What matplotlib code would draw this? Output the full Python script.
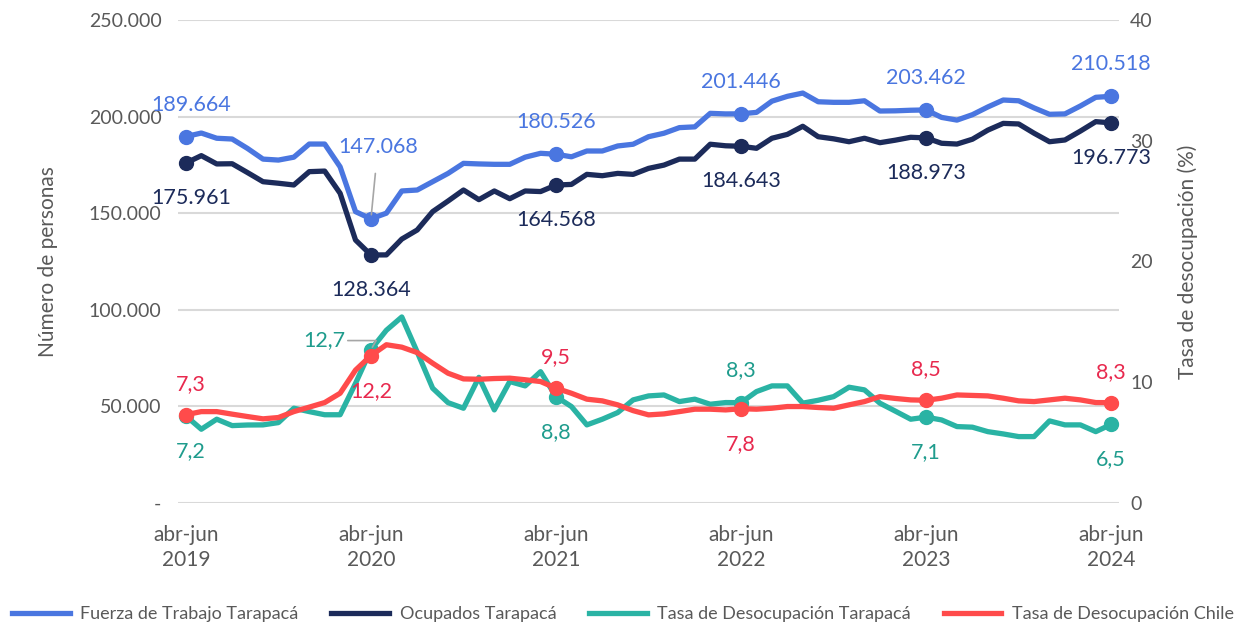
import matplotlib
matplotlib.use("Agg")
import matplotlib.pyplot as plt
from matplotlib.lines import Line2D

plt.rcParams['font.family'] = ['Lato', 'DejaVu Sans']

years = ["2019", "2020", "2021", "2022", "2023", "2024"]
tick_labels = ["abr-jun\n" + y for y in years]

fuerza_trabajo = [
    189.664, 191.5, 188.8, 188.4, 183.5, 178.0, 177.5, 179.0, 185.8, 185.8,
    174.0, 150.8, 147.068, 150.0, 161.5, 162.0, 166.3, 170.6, 175.8, 175.5,
    175.3, 175.3, 179.0, 181.0, 180.526, 179.2, 182.2, 182.2, 184.8, 185.7,
    189.6, 191.4, 194.3, 194.7, 201.7, 201.4, 201.446, 202.2, 208.0, 210.5,
    212.2, 207.7, 207.4, 207.4, 208.2, 202.9, 203.0, 203.3, 203.462, 199.6,
    198.2, 201.0, 205.0, 208.6, 208.2, 204.5, 201.2, 201.4, 205.5, 210.0,
    210.518]
ocupados = [
    175.961, 179.8, 175.5, 175.6, 171.0, 166.3, 165.5, 164.6, 171.5, 171.8,
    160.3, 136.1, 128.364, 128.4, 136.6, 141.3, 150.8, 156.3, 162.0, 157.0,
    161.5, 157.5, 161.5, 161.2, 164.568, 164.9, 170.1, 169.4, 170.6, 170.1,
    173.2, 174.9, 178.0, 178.0, 185.7, 184.9, 184.643, 183.6, 188.8, 190.8,
    195.0, 189.6, 188.5, 187.0, 188.8, 186.5, 187.8, 189.3, 188.973, 186.2,
    185.8, 188.3, 193.0, 196.5, 196.2, 191.4, 187.0, 187.9, 192.5, 197.4,
    196.773]
tasa_tarapaca = [
    7.2, 6.1, 6.93, 6.4, 6.45, 6.46, 6.65, 7.84, 7.56, 7.3,
    7.3, 9.9, 12.7, 14.3, 15.4, 12.5, 9.5, 8.3, 7.84, 10.4,
    7.7, 10.05, 9.69, 10.87, 8.8, 7.98, 6.46, 6.93, 7.48, 8.53,
    8.86, 8.94, 8.39, 8.59, 8.17, 8.31, 8.3, 9.22, 9.69, 9.69,
    8.26, 8.5, 8.8, 9.58, 9.36, 8.26, 7.6, 6.93, 7.1, 6.87,
    6.32, 6.27, 5.9, 5.71, 5.49, 5.49, 6.79, 6.46, 6.46, 5.9,
    6.5]
tasa_chile = [
    7.3, 7.56, 7.56, 7.35, 7.15, 6.96, 7.07, 7.56, 7.93, 8.31,
    9.08, 11.0, 12.2, 13.1, 12.9, 12.45, 11.57, 10.74, 10.27, 10.24,
    10.3, 10.33, 10.2, 10.05, 9.5, 9.08, 8.59, 8.45, 8.12, 7.64,
    7.29, 7.37, 7.56, 7.76, 7.76, 7.7, 7.8, 7.76, 7.84, 7.98,
    7.98, 7.9, 7.84, 8.12, 8.39, 8.8, 8.65, 8.53, 8.5, 8.67,
    8.94, 8.9, 8.86, 8.67, 8.45, 8.39, 8.53, 8.67, 8.53, 8.31,
    8.3]

C_FT = '#4A76E0'
C_OC = '#1C2B5A'
C_TT = '#2AB3A4'
C_TC = '#FF4B4B'
C_TT_LBL = '#1F9C8D'
C_TC_LBL = '#E8294E'
GREY = '#595959'

n = len(fuerza_trabajo)
x = list(range(n))
marks = list(range(0, n, 12))

fig = plt.figure(figsize=(12.46, 6.27), dpi=100)
ax = fig.add_axes([0.143, 0.198, 0.755, 0.770])
ax2 = ax.twinx()

ft = [v * 1000 for v in fuerza_trabajo]
oc = [v * 1000 for v in ocupados]

lw = 3.8
ms = 10
ax.plot(x, ft, color=C_FT, lw=lw, marker='o', ms=ms, markevery=marks,
        solid_joinstyle='round', zorder=3)
ax.plot(x, oc, color=C_OC, lw=lw, marker='o', ms=ms, markevery=marks,
        solid_joinstyle='round', zorder=3)
ax2.plot(x, tasa_tarapaca, color=C_TT, lw=lw, marker='o', ms=ms, markevery=marks,
         solid_joinstyle='round', zorder=3)
ax2.plot(x, tasa_chile, color=C_TC, lw=lw, marker='o', ms=ms, markevery=marks,
         solid_joinstyle='round', zorder=4)

ax.set_xlim(-0.5, n - 0.5)
ax.set_ylim(0, 250000)
ax2.set_ylim(0, 40)
ax.set_yticks(range(0, 250001, 50000))
ax.set_yticklabels(['-' if v == 0 else f"{v:,}".replace(',', '.') for v in range(0, 250001, 50000)])
ax2.set_yticks(range(0, 41, 10))
ax.set_xticks(marks)
ax.set_xticklabels(tick_labels, linespacing=1.3)

for a in (ax, ax2):
    for s in a.spines.values():
        s.set_visible(False)
    a.tick_params(length=0, labelsize=14, labelcolor=GREY)
ax.tick_params(axis='x', labelsize=15, pad=16)
ax.tick_params(axis='y', pad=12)
ax2.tick_params(axis='y', pad=8)
ax.grid(axis='y', color='#D9D9D9', lw=1.5)
ax.set_axisbelow(True)

ax.set_ylabel('Número de personas', fontsize=15, color=GREY, labelpad=22)
ax2.set_ylabel('Tasa de desocupación (%)', fontsize=15, color=GREY, labelpad=18)

fs = 15.5
def lab(axis, i, vals, txt, color, dy, dx=0):
    axis.annotate(txt, xy=(i, vals[i]), xytext=(dx, dy), textcoords='offset pixels',
                  ha='center', va='center', fontsize=fs, color=color, zorder=6)

ft_lbl = ["189.664", "147.068", "180.526", "201.446", "203.462", "210.518"]
oc_lbl = ["175.961", "128.364", "164.568", "184.643", "188.973", "196.773"]
tt_lbl = ["7,2", "12,7", "8,8", "8,3", "7,1", "6,5"]
tc_lbl = ["7,3", "12,2", "9,5", "7,8", "8,5", "8,3"]
tt_dir = [-1, 0, -1, 1, -1, -1]
tc_dir = [1, -1, 1, -1, 1, 1]

for k, i in enumerate(marks):
    dx0 = 5 if k == 0 else 0
    if k == 1:
        ax.annotate(ft_lbl[k], xy=(i, ft[i]), xytext=(7, 72), textcoords='offset pixels',
                    ha='center', va='center', fontsize=fs, color=C_FT,
                    arrowprops=dict(arrowstyle='-', color='#A6A6A6', lw=1.2,
                                    shrinkA=10, shrinkB=3))
    else:
        lab(ax, i, ft, ft_lbl[k], C_FT, 32, dx0)
    lab(ax, i, oc, oc_lbl[k], C_OC, -35, dx0)
    if k == 1:
        ax2.annotate(tt_lbl[k], xy=(i, tasa_tarapaca[i]), xytext=(-47, 9),
                     textcoords='offset pixels', ha='center', va='center',
                     fontsize=fs, color=C_TT_LBL,
                     arrowprops=dict(arrowstyle='-', color='#A6A6A6', lw=1.2,
                                     connectionstyle='angle,angleA=0,angleB=60,rad=0',
                                     shrinkA=22, shrinkB=2))
    else:
        lab(ax2, i, tasa_tarapaca, tt_lbl[k], C_TT_LBL, 33 if tt_dir[k] > 0 else -35, dx0)
    lab(ax2, i, tasa_chile, tc_lbl[k], C_TC_LBL, 31 if tc_dir[k] > 0 else -35, dx0)

handles = [Line2D([], [], color=c, lw=lw) for c in (C_FT, C_OC, C_TT, C_TC)]
names = ['Fuerza de Trabajo Tarapacá', 'Ocupados Tarapacá',
         'Tasa de Desocupación Tarapacá', 'Tasa de Desocupación Chile']
fig.legend(handles, names, loc='center', bbox_to_anchor=(0.5, 0.02), ncol=4,
           frameon=False, fontsize=13, handlelength=3.2, columnspacing=1.8,
           handletextpad=0.6, labelcolor=GREY)

fig.savefig('out.png', dpi=100)
